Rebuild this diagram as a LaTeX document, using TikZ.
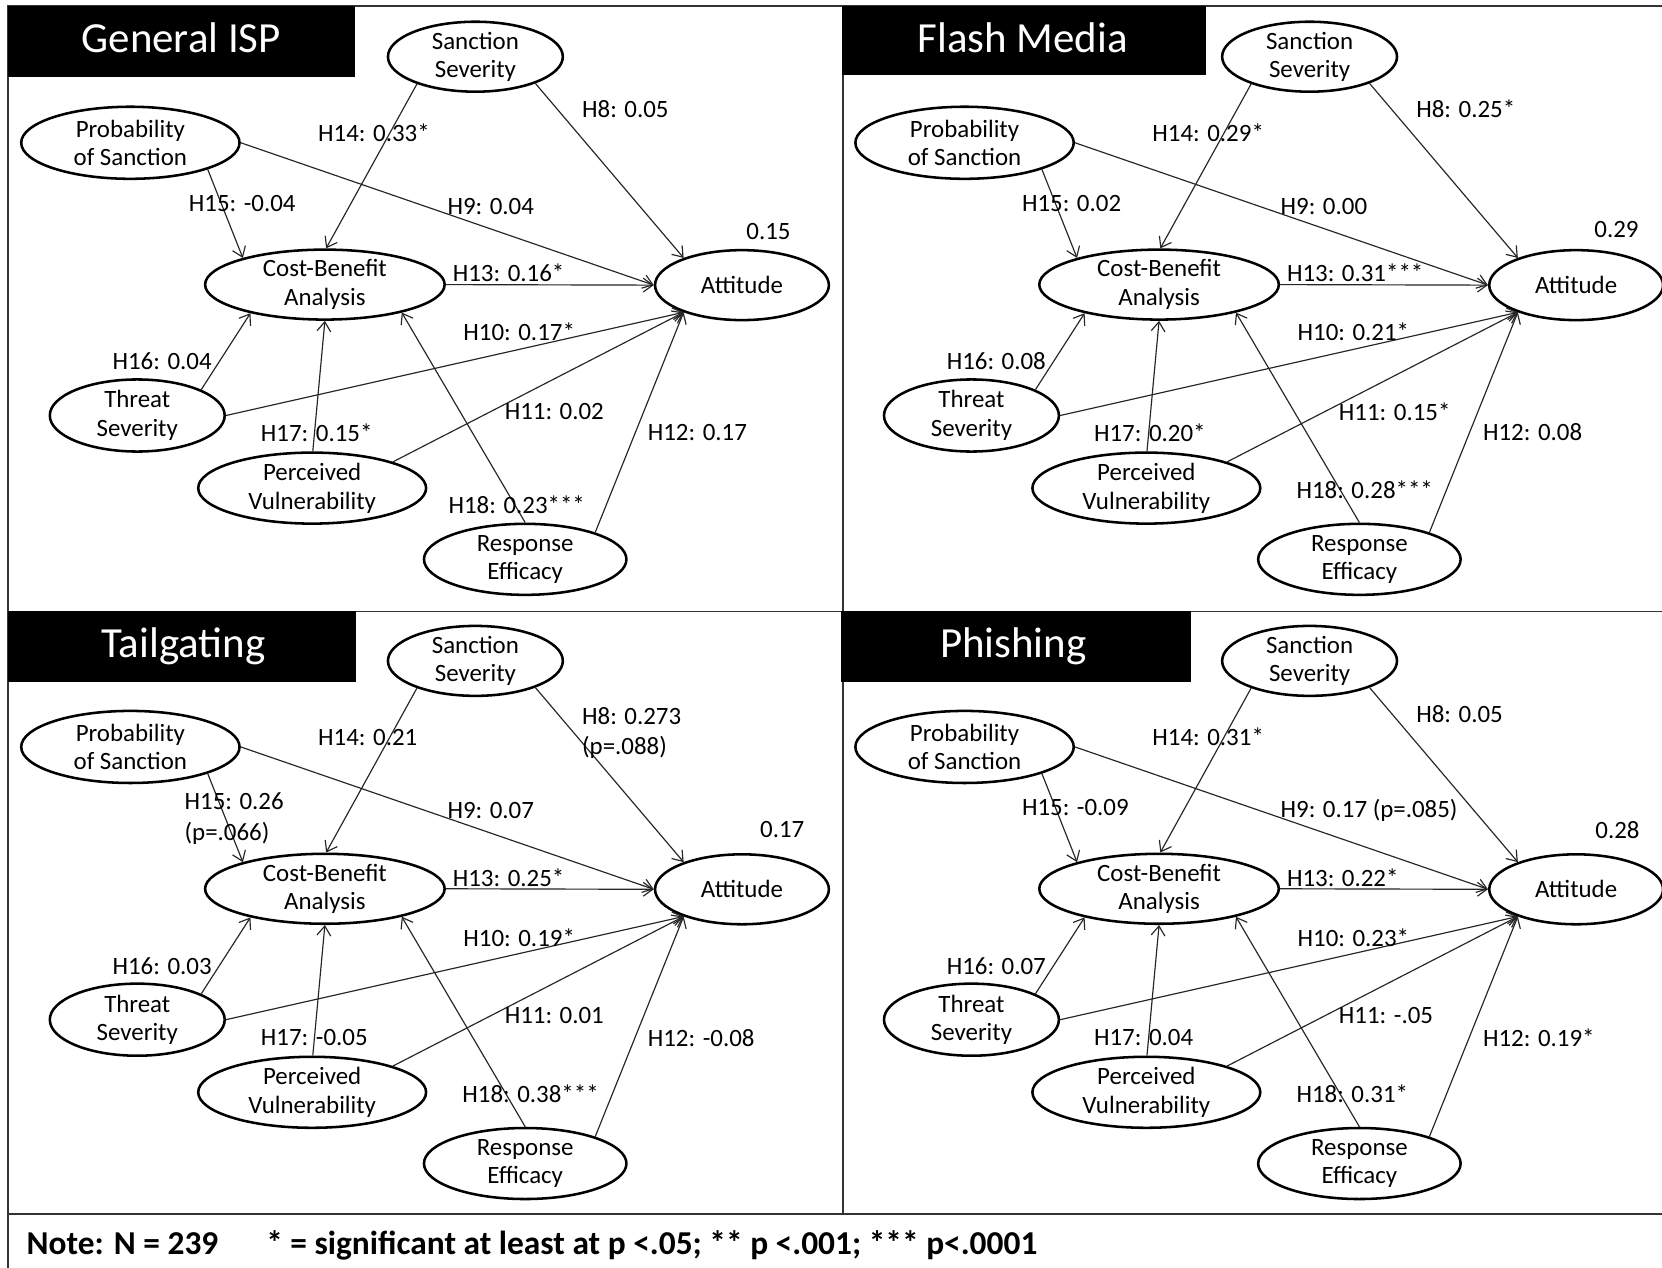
\documentclass[tikz,border=0pt]{standalone}
\usepackage{fontspec}
\setmainfont{Carlito}
\usetikzlibrary{shapes.geometric,arrows.meta}

% font sizes (1pt = one unit of the drawing grid)
\newcommand\coeffont{\fontsize{23.5}{29}\selectfont}
\newcommand\cnstfont{\fontsize{23.5}{27}\selectfont}
\newcommand\ttlfont{\fontsize{40.5}{44}\selectfont}
\newcommand\notefont{\fontsize{31.5}{36}\selectfont\bfseries}

\tikzset{
  construct/.style={ellipse, draw=black, line width=2.4pt, inner xsep=0pt,
    inner ysep=-6pt, align=center, font=\cnstfont},
  hyp/.style={line width=1.1pt, draw=black!85,
    -{Straight Barb[length=9pt,width=13pt]}},
  coef/.style={anchor=west, inner sep=0pt, align=left, font=\coeffont},
  frameline/.style={line width=1.6pt, draw=black!80},
  titlebar/.style={fill=black, draw=none},
  titletext/.style={anchor=base, inner sep=0pt, text=white, font=\ttlfont},
  notetext/.style={anchor=base west, inner sep=0pt, font=\notefont},
}

% one structural model: constructs and hypothesised paths
% #1 name prefix, #2 x offset, #3 y offset
\newcommand\modelpanel[3]{%
  \begin{scope}[shift={(#2,#3)}]
    \node[construct, minimum width=165pt, minimum height=66pt] (#1ss) at (448.5,53.5) {Sanction\\Severity};
    \node[construct, minimum width=206pt, minimum height=68pt] (#1ps) at (123,134.7) {Probability\\of Sanction};
    \node[construct, minimum width=226pt, minimum height=66pt] (#1cba) at (306.5,268.5) {Cost-Benefit\\Analysis};
    \node[construct, minimum width=164pt, minimum height=66pt] (#1att) at (700,269) {Attitude};
    \node[construct, minimum width=165pt, minimum height=68pt] (#1ts) at (129.5,392) {Threat\\Severity};
    \node[construct, minimum width=215pt, minimum height=67pt] (#1pv) at (294.5,460.5) {Perceived\\Vulnerability};
    \node[construct, minimum width=191pt, minimum height=67pt] (#1re) at (495.5,527.7) {Response\\Efficacy};
  \end{scope}
  \draw[hyp] (#1ss.205) -- (#1cba.88);
  \draw[hyp] (#1ss.336) -- (#1att.155);
  \draw[hyp] (#1ps.341) -- (#1cba.162);
  \draw[hyp] (#1ps.east) -- (#1att.west);
  \draw[hyp] (#1cba.east) -- (#1att.west);
  \draw[hyp] (#1ts.22) -- (#1cba.201);
  \draw[hyp] (#1ts.east) -- (#1att.205);
  \draw[hyp] (#1pv.89) -- (#1cba.south);
  \draw[hyp] (#1pv.18) -- (#1att.205);
  \draw[hyp] (#1re.north) -- (#1cba.340);
  \draw[hyp] (#1re.21) -- (#1att.205);
}

\begin{document}
\begin{tikzpicture}[x=1pt,y=-1pt]
  \useasboundingbox (0,0) rectangle (1568,1196);
  \fill[white] (0,0) rectangle (1568,1196);

  % outer frame and panel dividers
  \draw[frameline] (7.5,1196) -- (7.5,5.5) -- (1568,5.5);
  \draw[frameline] (795,5.5) -- (795,1145);
  \draw[frameline] (7.5,577) -- (1568,577);
  \draw[frameline] (7.5,1145) -- (1568,1145);

  % title bars
  \fill[titlebar] (7.5,5.5) rectangle (335,72.5);
  \fill[titlebar] (794,5.5) rectangle (1138,71);
  \fill[titlebar] (7.5,576) rectangle (336,643);
  \fill[titlebar] (793,576) rectangle (1124,643);
  \node[titletext] (tGen) at (171,50) {General ISP};
  \node[titletext] (tFla) at (965,50) {Flash Media};
  \node[titletext] (tTai) at (173,620) {Tailgating};
  \node[titletext] (tPhi) at (956,620) {Phishing};

  \modelpanel{g}{0}{0}
  \modelpanel{f}{787}{0}
  \modelpanel{t}{0}{570}
  \modelpanel{p}{787}{570}

  % General ISP coefficients
  \begin{scope}
    \node[coef] (g14) at (300,125) {H14: 0.33*};
    \node[coef] (g8)  at (549,103) {H8: 0.05};
    \node[coef] (g15) at (178,192) {H15: -0.04};
    \node[coef] (g9)  at (422,195) {H9: 0.04};
    \node[coef] (gR)  at (704,218) {0.15};
    \node[coef] (g13) at (427,257) {H13: 0.16*};
    \node[coef] (g10) at (437,313) {H10: 0.17*};
    \node[coef] (g16) at (106,341) {H16: 0.04};
    \node[coef] (g11) at (476,388) {H11: 0.02};
    \node[coef] (g17) at (246,408) {H17: 0.15*};
    \node[coef] (g12) at (611,408) {H12: 0.17};
    \node[coef] (g18) at (423,476) {H18: 0.23***};
  \end{scope}

  % Flash Media coefficients
  \begin{scope}[shift={(787,0)}]
    \node[coef] (f14) at (300,125) {H14: 0.29*};
    \node[coef] (f8)  at (549,103) {H8: 0.25*};
    \node[coef] (f15) at (177,192) {H15: 0.02};
    \node[coef] (f9)  at (421,195) {H9: 0.00};
    \node[coef] (fR)  at (717,217) {0.29};
    \node[coef] (f13) at (427,257) {H13: 0.31***};
    \node[coef] (f10) at (437,313) {H10: 0.21*};
    \node[coef] (f16) at (106,341) {H16: 0.08};
    \node[coef] (f11) at (476,388) {H11: 0.15*};
    \node[coef] (f17) at (245,408) {H17: 0.20*};
    \node[coef] (f12) at (612,408) {H12: 0.08};
    \node[coef] (f18) at (436,462) {H18: 0.28***};
  \end{scope}

  % Tailgating coefficients
  \begin{scope}[shift={(0,570)}]
    \node[coef] (t14) at (300,125.5) {H14: 0.21};
    \node[coef] (t8)  at (549,121.5) {H8: 0.273\\(p=.088)};
    \node[coef] (t15) at (174,202.5) {H15: 0.26\\(p=.066)};
    \node[coef] (t9)  at (422,195) {H9: 0.07};
    \node[coef] (tR)  at (717,213) {0.17};
    \node[coef] (t13) at (427,258) {H13: 0.25*};
    \node[coef] (t10) at (437,315) {H10: 0.19*};
    \node[coef] (t16) at (106,342) {H16: 0.03};
    \node[coef] (t11) at (476,388) {H11: 0.01};
    \node[coef] (t17) at (246,409) {H17: -0.05};
    \node[coef] (t12) at (611,409) {H12: -0.08};
    \node[coef] (t18) at (436,462) {H18: 0.38***};
  \end{scope}

  % Phishing coefficients
  \begin{scope}[shift={(787,570)}]
    \node[coef] (p14) at (300,125.5) {H14: 0.31*};
    \node[coef] (p8)  at (549,104) {H8: 0.05};
    \node[coef] (p15) at (177,192) {H15: -0.09};
    \node[coef] (p9)  at (421,195) {H9: 0.17 (p=.085)};
    \node[coef] (pR)  at (718,213) {0.28};
    \node[coef] (p13) at (427,258) {H13: 0.22*};
    \node[coef] (p10) at (437,315) {H10: 0.23*};
    \node[coef] (p16) at (106,342) {H16: 0.07};
    \node[coef] (p11) at (476,388) {H11: -.05};
    \node[coef] (p17) at (245,409) {H17: 0.04};
    \node[coef] (p12) at (612,409) {H12: 0.19*};
    \node[coef] (p18) at (436,462) {H18: 0.31*};
  \end{scope}

  % footnote
  \node[notetext] (nN) at (25,1184) {Note: N = 239};
  \node[notetext] (nSig) at (251,1184) {* = significant at least at p <.05; ** p <.001; *** p<.0001};
\end{tikzpicture}
\end{document}
